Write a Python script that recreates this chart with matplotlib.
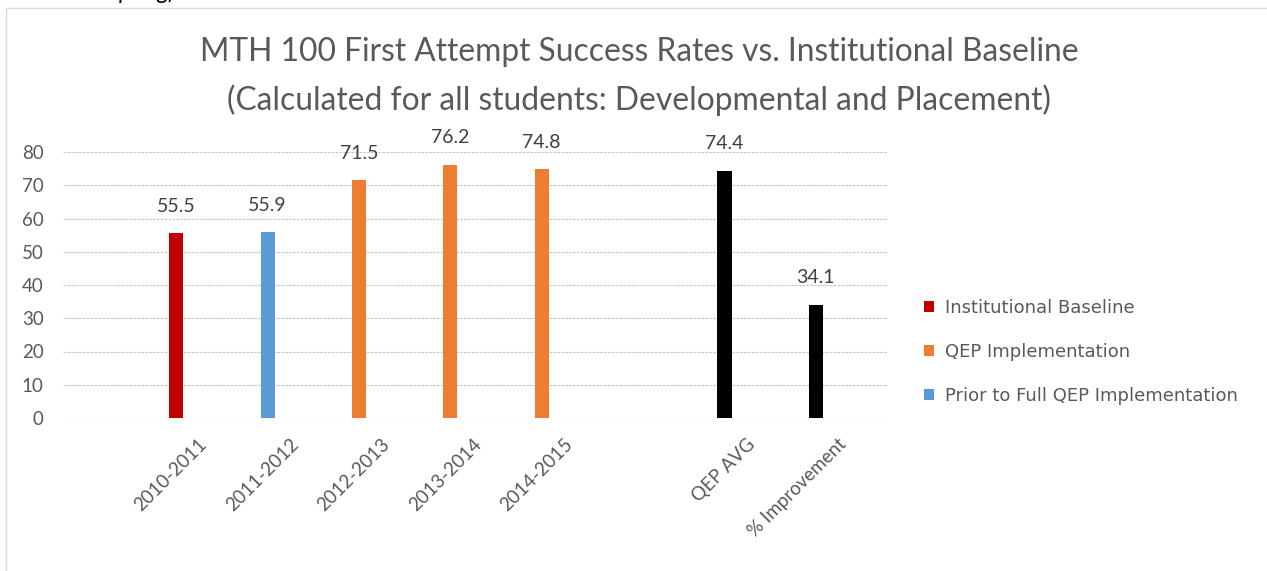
import matplotlib
matplotlib.use("Agg")
import matplotlib.pyplot as plt
from matplotlib.patches import Patch
from matplotlib.lines import Line2D
from matplotlib.transforms import ScaledTranslation
import numpy as np

# ---- data ----
categories = ["2010-2011", "2011-2012", "2012-2013", "2013-2014", "2014-2015",
              "", "QEP AVG", "% Improvement"]
values = [55.5, 55.9, 71.5, 76.2, 74.8, np.nan, 74.4, 34.1]
groups = ["Institutional Baseline", "Prior to Full QEP Implementation",
          "QEP Implementation", "QEP Implementation", "QEP Implementation",
          None, "Summary", "Summary"]
legend_order = ["Institutional Baseline", "QEP Implementation",
                "Prior to Full QEP Implementation"]
title_lines = ["MTH 100 First Attempt Success Rates vs. Institutional Baseline",
               "(Calculated for all students: Developmental and Placement)"]
yticks = [0, 10, 20, 30, 40, 50, 60, 70, 80]

# ---- styles ----
colors = {"Institutional Baseline": "#C00000",
          "QEP Implementation": "#ED7D31",
          "Prior to Full QEP Implementation": "#5B9BD5",
          "Summary": "#000000"}
grey_text = "#595959"
FONT = ["Lato", "DejaVu Sans"]

W, H, DPI = 1267, 571, 100
fig = plt.figure(figsize=(W / DPI, H / DPI), dpi=DPI)
fig.patch.set_facecolor("white")

def px_x(x):
    return x / W

def px_y(y):
    return 1 - y / H

ax_left, ax_right, ax_top, ax_bot = 63, 888, 152, 418
ax = fig.add_axes([px_x(ax_left), px_y(ax_bot),
                   (ax_right - ax_left) / W, (ax_bot - ax_top) / H])

x = np.arange(len(categories))
bar_colors = [colors[g] if g else "none" for g in groups]
ax.bar(x, values, width=0.155, color=bar_colors, zorder=3)

for xi, v in zip(x, values):
    if not np.isnan(v):
        ax.annotate(f"{v:.1f}", (xi, v), xytext=(0, 19.5), textcoords="offset points",
                    ha="center", va="center", fontsize=14, color="#404040",
                    family=FONT, zorder=4)

ax.set_xlim(-1.24, 7.79)
ax.set_ylim(0, 80)
ax.set_yticks(yticks)
ax.yaxis.grid(True, color="#C8C8C8", linestyle=(0, (2.5, 1)), linewidth=0.8, zorder=0)
ax.set_axisbelow(True)
for s in ax.spines.values():
    s.set_visible(False)
ax.tick_params(axis="y", length=0, pad=14, labelsize=13.5, labelcolor=grey_text)
for lab in ax.get_yticklabels():
    lab.set_family(FONT)

ax.set_xticks(x)
ax.set_xticklabels(categories, rotation=45, ha="right", va="center",
                   rotation_mode="anchor", fontsize=13.5, color=grey_text, family=FONT)
ax.tick_params(axis="x", length=0, pad=17)
offset = ScaledTranslation(28 / DPI, 0, fig.dpi_scale_trans)
for lab in ax.get_xticklabels():
    lab.set_transform(lab.get_transform() + offset)

# title
fig.text(px_x(639), px_y(52), title_lines[0], ha="center", va="center",
         fontsize=22.9, color=grey_text, family=FONT)
fig.text(px_x(639), px_y(100), title_lines[1], ha="center", va="center",
         fontsize=22.9, color=grey_text, family=FONT)

# legend
handles = [Patch(facecolor=colors[g], edgecolor="none", label=g) for g in legend_order]
leg = fig.legend(handles=handles, loc="upper left",
                 bbox_to_anchor=(px_x(908), px_y(283)), frameon=False,
                 handlelength=0.55, handleheight=0.55, handletextpad=0.6,
                 labelspacing=1.42, prop={"family": "DejaVu Sans", "size": 13})
for t in leg.get_texts():
    t.set_color(grey_text)

# chart border (left and top)
fig.add_artist(Line2D([px_x(6), px_x(6)], [px_y(8), 0], color="#D9D9D9", lw=1))
fig.add_artist(Line2D([px_x(6), 1], [px_y(8), px_y(8)], color="#D9D9D9", lw=1))

# cut-off text from the page above (only its lowest part is visible)
fig.text(px_x(176), px_y(-1), "Spring)", ha="right", va="baseline",
         fontsize=17, style="italic", color="black", family=FONT)

fig.savefig("out.png", dpi=DPI)
